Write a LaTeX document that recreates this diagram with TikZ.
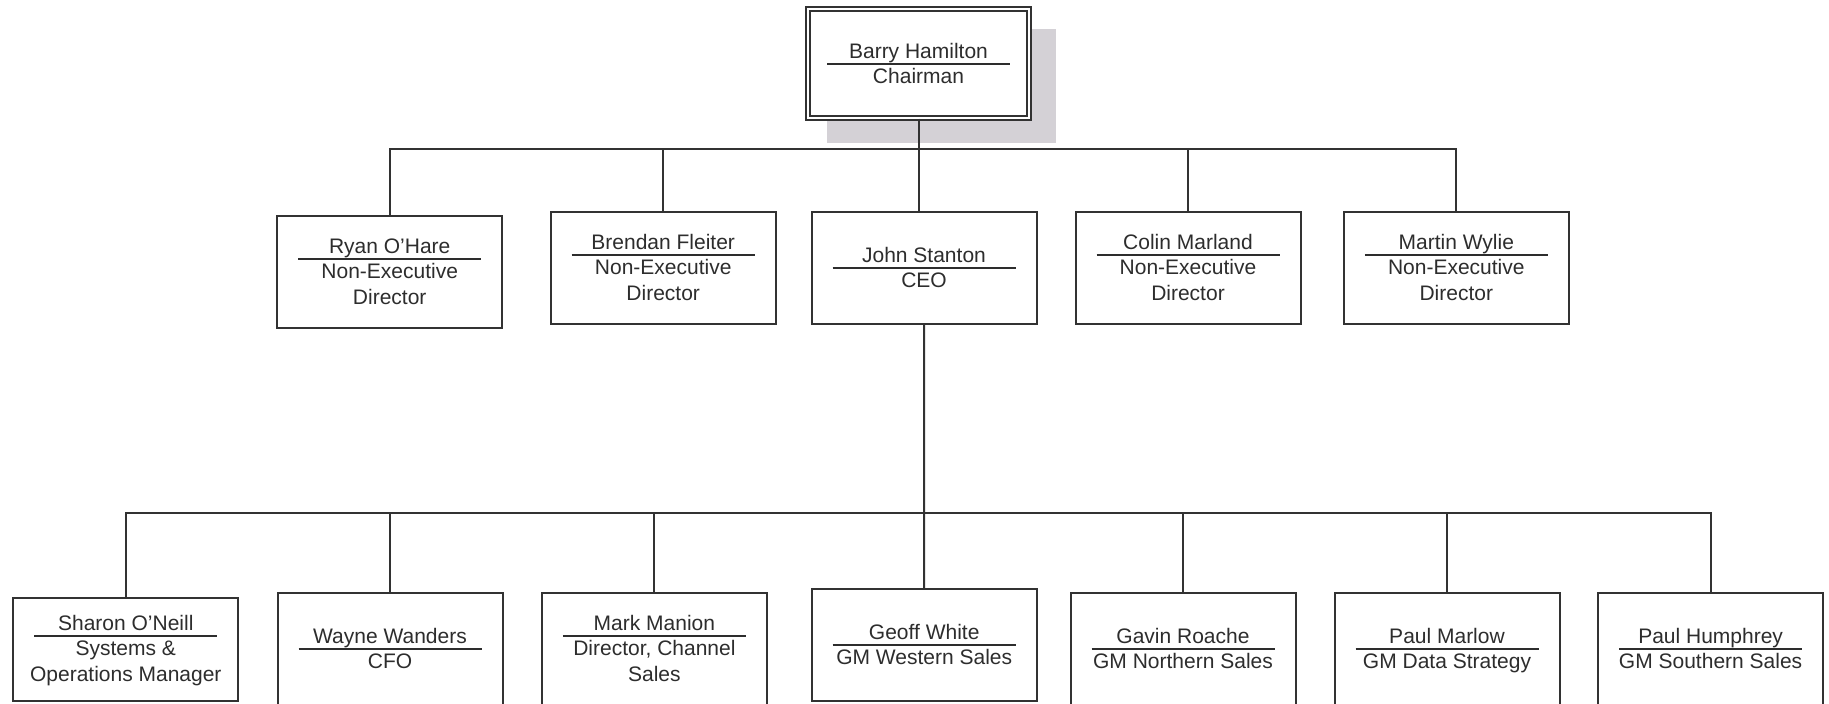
\documentclass[tikz,border=0pt]{standalone}
\usepackage{fontspec}
\setmainfont{Liberation Sans}
\usetikzlibrary{backgrounds}
\definecolor{linec}{RGB}{50,50,50}
\definecolor{textc}{RGB}{45,45,45}
\definecolor{shadowc}{RGB}{212,209,214}
\newcommand\cardtext[2]{%
  \vbox{\offinterlineskip\hsize=183pt
    \hbox to\hsize{\hss\vrule height 21.8pt depth 4.5pt width 0pt #1\hss}%
    \hrule height 2pt
    \kern 0.3pt
    \hbox to\hsize{\hss\begin{tabular}{@{}c@{}}#2\end{tabular}\hss}}}
\tikzset{
  card/.style={rectangle, draw=linec, line width=2pt, fill=white, inner sep=0pt,
    minimum width=225pt, minimum height=112pt, text=textc,
    font=\fontsize{21}{26}\selectfont},
  chaircard/.style={card, double=white, line width=2.2pt, double distance=2pt,
    minimum width=220.6pt, minimum height=108.6pt},
  shortcard/.style={card, minimum height=103pt},
  conn/.style={draw=linec, line width=2pt},
}
\begin{document}
\begin{tikzpicture}[x=1pt,y=-1pt]
\useasboundingbox (0,0) rectangle (1829,704);
% nodes
\node[chaircard] (chair) at (918.5,63.5) {\cardtext{Barry Hamilton}{Chairman}};
\node[card] (ryan)    at (389.7,272)  {\cardtext{Ryan O'Hare}{Non-Executive\\Director}};
\node[card] (brendan) at (663.2,268)  {\cardtext{Brendan Fleiter}{Non-Executive\\Director}};
\node[card] (john)    at (924,268)    {\cardtext{John Stanton}{CEO}};
\node[card] (colin)   at (1188,268)   {\cardtext{Colin Marland}{Non-Executive\\Director}};
\node[card] (martin)  at (1456.3,268) {\cardtext{Martin Wylie}{Non-Executive\\Director}};
\node[shortcard] (sharon) at (125.8,649.2) {\cardtext{Sharon O'Neill}{Systems \&\\Operations Manager}};
\node[card] (wayne)   at (390,649.3)   {\cardtext{Wayne Wanders}{CFO}};
\node[card] (mark)    at (654.4,649.3) {\cardtext{Mark Manion}{Director, Channel\\Sales}};
\node[card] (geoff)   at (924.2,645.3) {\cardtext{Geoff White}{GM Western Sales}};
\node[card] (gavin)   at (1183,649.3)  {\cardtext{Gavin Roache}{GM Northern Sales}};
\node[card] (pmarlow) at (1447,649.3)  {\cardtext{Paul Marlow}{GM Data Strategy}};
\node[card] (phumph)  at (1710.6,649.3){\cardtext{Paul Humphrey}{GM Southern Sales}};
% shadow and background
\begin{scope}[on background layer]
  \fill[white] (0,0) rectangle (1829,704);
  \fill[shadowc] ([shift={(-91.8,-34.5)}]chair.center) rectangle ([shift={(137.5,79.8)}]chair.center);
\end{scope}
% bus coordinates
\coordinate (bus1) at (0,149);
\coordinate (bus2) at (0,513.3);
% connectors, first level
\draw[conn] (chair.south) -- (chair.south |- bus1) -| (ryan.north);
\draw[conn] (chair.south |- bus1) -| (brendan.north);
\draw[conn] (chair.south) -- (chair.south |- john.north);
\draw[conn] (chair.south |- bus1) -| (colin.north);
\draw[conn] (chair.south |- bus1) -| (martin.north);
% connectors, second level
\draw[conn] (john.south) -- (john.south |- bus2) -| (sharon.north);
\draw[conn] (john.south |- bus2) -| (wayne.north);
\draw[conn] (john.south |- bus2) -| (mark.north);
\draw[conn] (john.south) -- (geoff.north);
\draw[conn] (john.south |- bus2) -| (gavin.north);
\draw[conn] (john.south |- bus2) -| (pmarlow.north);
\draw[conn] (john.south |- bus2) -| (phumph.north);
\end{tikzpicture}
\end{document}
